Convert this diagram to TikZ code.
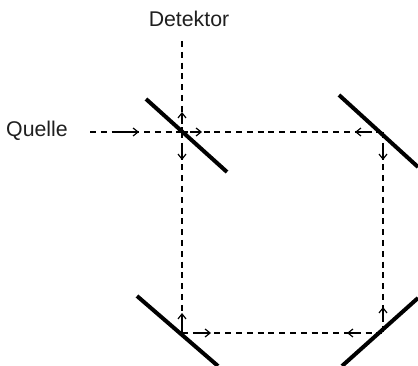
\documentclass[tikz,border=0pt]{standalone}
\usepackage{fontspec}
\setmainfont{Liberation Sans}
\usetikzlibrary{arrows.meta,calc}
\tikzset{
  mirror/.style={line width=4pt},
  beam/.style={line width=1.7pt,dash pattern=on 6pt off 4.8pt},
  tick/.style={line width=1.1pt,-{Straight Barb[length=5pt,width=8pt,line width=1.2pt]}},
  lbl/.style={inner sep=0pt,font=\fontsize{21.3}{24}\selectfont,text=black!88}
}
\begin{document}
\begin{tikzpicture}[x=1pt,y=-1pt]
\useasboundingbox (0,0) rectangle (418,366);
\coordinate (bs1) at (146,99); \coordinate (bs2) at (227,172);
\coordinate (m1a) at (339,95); \coordinate (m1b) at (418,167);
\coordinate (m2a) at (137,296); \coordinate (m2b) at (218,366);
\coordinate (m3a) at (418,298); \coordinate (m3b) at (342,366);
\coordinate (bs) at (182,132); \coordinate (tr) at (383,132);
\coordinate (bl) at (182,333); \coordinate (br) at (383,333);
\coordinate (srcend) at (90,132); \coordinate (detend) at (182,41);
\node[lbl,anchor=base] (det) at (189,27) {Detektor};
\node[lbl,anchor=base west] (src) at (6,137) {Quelle};
\draw[mirror] (bs1) -- (bs2);
\draw[mirror] (m1a) -- (m1b);
\draw[mirror] (m2a) -- (m2b);
\draw[mirror] (m3a) -- (m3b);
\draw[beam] (srcend) -- (bs);
\draw[beam] (detend) -- (bs);
\draw[beam] (bs) -- (tr);
\draw[beam] (tr) -- (br);
\draw[beam] (bs) -- (bl);
\draw[beam] (bl) -- (br);
\draw[tick] ($(bs)+(-68,0)$) -- ($(bs)+(-43,0)$);
\draw[tick] ($(bs)+(0,-8)$) -- ($(bs)+(0,-20)$);
\draw[tick] ($(bs)+(8,0)$) -- ($(bs)+(20,0)$);
\draw[tick] ($(bs)+(0,14)$) -- ($(bs)+(0,28)$);
\draw[tick] ($(tr)+(-15,0)$) -- ($(tr)+(-28,0)$);
\draw[tick] ($(tr)+(0,14)$) -- ($(tr)+(0,28)$);
\draw[tick] ($(bl)+(0,-7)$) -- ($(bl)+(0,-20)$);
\draw[tick] ($(bl)+(13,0)$) -- ($(bl)+(29,0)$);
\draw[tick] ($(br)+(0,-13)$) -- ($(br)+(0,-26)$);
\draw[tick] ($(br)+(-24,0)$) -- ($(br)+(-36,0)$);
\end{tikzpicture}
\end{document}
